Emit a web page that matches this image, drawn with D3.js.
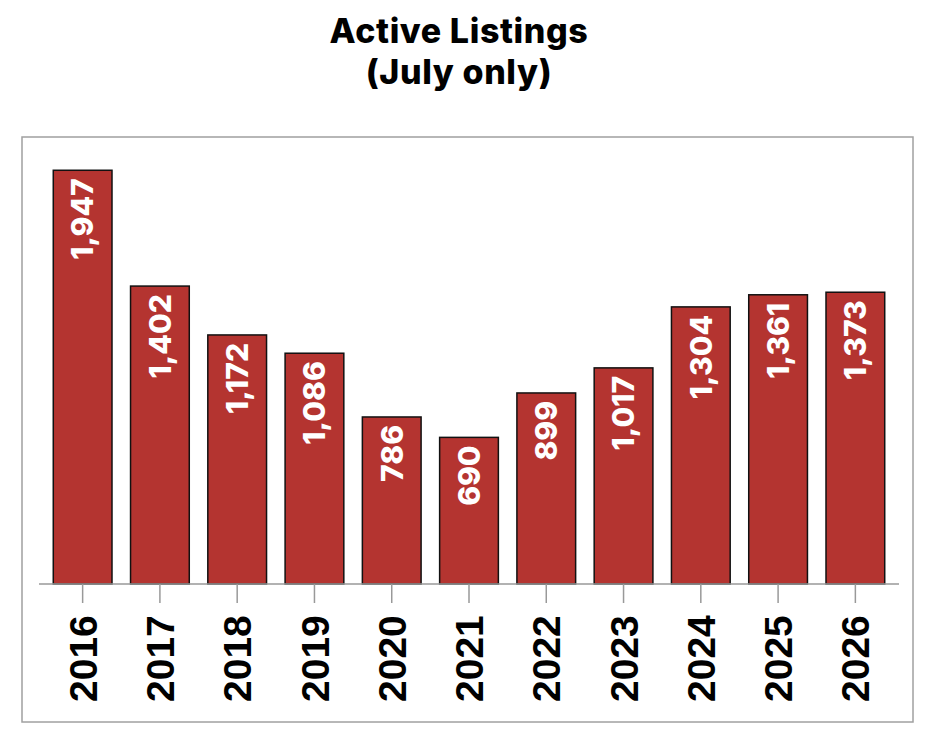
<!DOCTYPE html>
<html>
<head>
<meta charset="utf-8">
<script src="https://cdn.jsdelivr.net/npm/d3@7"></script>
<style>
  html, body { margin: 0; padding: 0; background: #fff; }
  svg { display: block; }
</style>
</head>
<body>
<svg id="chart" width="934" height="738"></svg>
<script>
const years = ["2016","2017","2018","2019","2020","2021","2022","2023","2024","2025","2026"];
const listings = [1947, 1402, 1172, 1086, 786, 690, 899, 1017, 1304, 1361, 1373];
const titleLines = ["Active Listings", "(July only)"];

const data = years.map((y, i) => ({ year: y, value: listings[i] }));

const svg = d3.select("#chart");

// Title
svg.append("g").selectAll("text").data(titleLines).join("text")
  .attr("x", 459)
  .attr("y", (d, i) => 43 + i * 41)
  .attr("text-anchor", "middle")
  .attr("font-family", "Inter, 'Open Sans', sans-serif")
  .attr("font-weight", 800)
  .attr("font-size", 34)
  .attr("letter-spacing", 0.6)
  .attr("fill", "#000")
  .text(d => d);

// Frame
svg.append("rect")
  .attr("x", 22).attr("y", 137)
  .attr("width", 891).attr("height", 585)
  .attr("fill", "none")
  .attr("stroke", "#a0a0a0")
  .attr("stroke-width", 1.5);

const x = d3.scaleBand()
  .domain(years)
  .range([44, 894])
  .paddingInner(0.24)
  .paddingOuter(0.12);

const y = d3.scaleLinear()
  .domain([0, 2000])
  .range([584, 159]);

// Bars
svg.append("g").selectAll("rect").data(data).join("rect")
  .attr("x", d => x(d.year))
  .attr("y", d => y(d.value))
  .attr("width", x.bandwidth())
  .attr("height", d => y(0) - y(d.value))
  .attr("fill", "#b43430")
  .attr("stroke", "#111")
  .attr("stroke-width", 1.5);

// Bar labels
const fmt = d3.format(",");
svg.append("g").selectAll("text").data(data).join("text")
  .attr("transform", d => `translate(${x(d.year) + x.bandwidth() / 2},${y(d.value) + 8}) rotate(-90)`)
  .attr("dy", "0.36em")
  .attr("text-anchor", "end")
  .attr("font-family", "Inter, 'Open Sans', sans-serif")
  .attr("font-weight", 800)
  .attr("font-size", 30)
  .attr("fill", "#fff")
  .text(d => fmt(d.value));

// X axis
const axis = d3.axisBottom(x).tickSize(19).tickSizeOuter(0);
const gx = svg.append("g")
  .attr("transform", "translate(0,584)")
  .call(axis);
gx.select(".domain").remove();
gx.insert("line", ":first-child")
  .attr("x1", 39).attr("x2", 899)
  .attr("y1", 0).attr("y2", 0)
  .attr("stroke", "#999").attr("stroke-width", 1.5);
gx.selectAll(".tick line").attr("stroke", "#999").attr("stroke-width", 1.5);
gx.selectAll(".tick text")
  .attr("transform", "translate(0,118) rotate(-90)")
  .attr("x", 0).attr("y", 0)
  .attr("dy", "0.36em")
  .attr("text-anchor", "start")
  .attr("font-family", "'Liberation Sans', Arial, sans-serif")
  .attr("font-weight", "bold")
  .attr("font-size", 39)
  .attr("fill", "#000");
</script>
</body>
</html>
